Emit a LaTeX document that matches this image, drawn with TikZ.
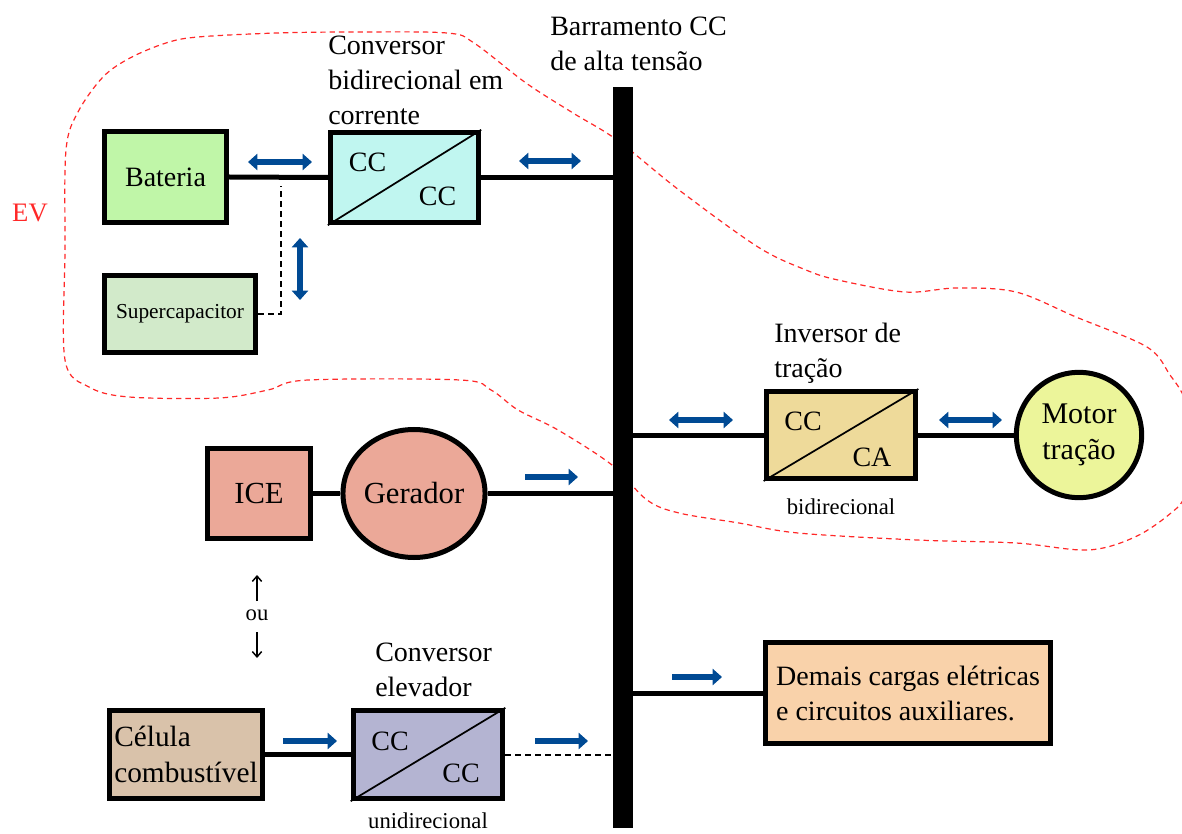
\documentclass[tikz,border=0pt]{standalone}
\usepackage{fontspec}
\setmainfont{Liberation Serif}
\usetikzlibrary{arrows.meta,shapes.geometric,calc}
\definecolor{arrowblue}{RGB}{0,74,148}
\definecolor{batgreen}{RGB}{192,246,168}
\definecolor{capgreen}{RGB}{210,234,202}
\definecolor{convcyan}{RGB}{192,246,240}
\definecolor{invtan}{RGB}{238,218,154}
\definecolor{motyellow}{RGB}{236,245,154}
\definecolor{icesalmon}{RGB}{235,168,152}
\definecolor{celtan}{RGB}{217,194,170}
\definecolor{elevlav}{RGB}{180,180,210}
\definecolor{loadpeach}{RGB}{249,210,170}
\definecolor{evred}{RGB}{255,40,40}
\begin{document}
\begin{tikzpicture}[x=0.75pt,y=-0.75pt,
  big/.style={font=\fontsize{21}{26.25}\selectfont},
  small/.style={font=\fontsize{17}{20}\selectfont},
  blk/.style={draw=black, line width=4pt, inner sep=0pt, rectangle},
  rnd/.style={draw=black, line width=3.75pt, inner sep=0pt, ellipse},
  wire/.style={line width=3.75pt},
  dwire/.style={line width=1.5pt, dash pattern=on 4.5pt off 3pt},
  onearrow/.style={arrowblue, line width=4.4pt, -{Triangle[length=7pt,width=12pt]}},
  twoarrow/.style={arrowblue, line width=4.4pt, {Triangle[length=7pt,width=12pt]}-{Triangle[length=7pt,width=12pt]}},
  label/.style={big, anchor=north west, inner sep=0pt, align=left},
  diag/.style={line width=1.3pt}
]
\useasboundingbox (0,0) rectangle (1182,834);

% EV region
\draw[evred, line width=0.9pt, dash pattern=on 4pt off 3pt]
  plot[smooth cycle, tension=0.55] coordinates {
  (65,360) (65,250) (66,150) (78,112) (103,77) (130,58) (166,43) (198,37) (277,33) (356,32) (447,33)
  (474,43) (526,83) (573,113) (617,140) (679,190) (758,247) (806,270) (838,280) (905,292) (957,288)
  (1016,292) (1076,317) (1147,347) (1170,375) (1185,400) (1194,445) (1185,495) (1171,513) (1135,537)
  (1088,550) (1016,543) (917,540) (798,533) (739,523) (679,513) (647,500) (612,465) (558,430)
  (518,410) (491,390) (460,380) (308,380) (268,390) (219,398) (129,397) (89,387)};
\node[evred, font=\fontsize{20}{24}\selectfont] (ev) at (30,213) {EV};

% bus
\node[fill=black, minimum width=15pt, minimum height=555.75pt, inner sep=0pt] (bus) at (623,457.5) {};
\node[label] (buslbl) at (550,17) {Barramento CC\\de alta tensão};

% battery and converter
\node[blk, fill=batgreen, minimum width=91.5pt, minimum height=68.25pt, big] (bat) at (165.5,177) {Bateria};
\node[blk, fill=convcyan, minimum width=111pt, minimum height=67.5pt] (conv1) at (404.5,177.5) {};
\draw[diag] (conv1.south west) -- (conv1.north east);
\node[big] (c1a) at ($(conv1)+(-37,-15)$) {CC};
\node[big] (c1b) at ($(conv1)+(33,19)$) {CC};
\node[label] (conv1lbl) at (328,36) {Conversor\\bidirecional em\\corrente};
\node[blk, fill=capgreen, minimum width=113pt, minimum height=58pt, font=\fontsize{16}{19}\selectfont] (cap) at (180,314) {Supercapacitor};

\draw[wire] (bat.east) -- (conv1.west);
\draw[wire] (conv1.east) -- (conv1.east -| bus.west);
\coordinate (dtop) at (281,186);
\draw[dwire] (cap.east) -| (dtop);
\draw[twoarrow] (248,162) -- (312,162);
\draw[twoarrow] (519,161) -- (581,161);
\draw[twoarrow] (300,238) -- (300,300);

% inverter and motor
\node[blk, fill=invtan, minimum width=112pt, minimum height=65pt] (inv) at (841,435) {};
\draw[diag] (inv.south west) -- (inv.north east);
\node[big] (inva) at ($(inv)+(-38,-14)$) {CC};
\node[big] (invb) at ($(inv)+(31,22)$) {CA};
\node[label] (invlbl) at (774,323) {Inversor de\\tração};
\node[small] (invdir) at (841,507) {bidirecional};
\node[rnd, fill=motyellow, minimum width=94pt, minimum height=94pt, align=center, font=\fontsize{22.5}{27}\selectfont] (mot) at (1079,435) {Motor\\tração};
\draw[wire] (inv.west -| bus.east) -- (inv.west);
\draw[wire] (inv.east) -- (mot.west);
\draw[twoarrow] (669,420) -- (733,420);
\draw[twoarrow] (939,420) -- (1002,420);

% ICE and generator
\node[blk, fill=icesalmon, minimum width=77pt, minimum height=67.5pt, font=\fontsize{23}{27}\selectfont] (ice) at (259,493.5) {ICE};
\node[rnd, fill=icesalmon, minimum width=97pt, minimum height=96pt, font=\fontsize{23}{27}\selectfont] (gen) at (414,493.5) {Gerador};
\draw[wire] (ice.east) -- (gen.west);
\draw[wire] (gen.east) -- (gen.east -| bus.west);
\draw[onearrow] (525,477) -- (578,477);

% ou
\node[small] (ou) at (257,615) {ou};
\draw[line width=1.1pt, -{Straight Barb[length=4pt,width=7pt]}] ($(ou)+(0,-14)$) -- ($(ou)+(0,-40)$);
\draw[line width=1.1pt, -{Straight Barb[length=4pt,width=7pt]}] ($(ou)+(0,17)$) -- ($(ou)+(0,43)$);

% other loads
\node[blk, fill=loadpeach, minimum width=214pt, minimum height=76pt, align=left, big] (load) at (908,693) {Demais cargas elétricas\\e circuitos auxiliares.};
\draw[wire] (load.west -| bus.east) -- (load.west);
\draw[onearrow] (672,677) -- (722,677);

% fuel cell and boost converter
\node[blk, fill=celtan, minimum width=115pt, minimum height=66pt, align=left, font=\fontsize{22}{27}\selectfont] (cel) at (186,754.5) {Célula\\combustível};
\node[blk, fill=elevlav, minimum width=112pt, minimum height=66pt] (conv2) at (428,754.5) {};
\draw[diag] (conv2.south west) -- (conv2.north east);
\node[big] (c2a) at ($(conv2)+(-38,-13.5)$) {CC};
\node[big] (c2b) at ($(conv2)+(33,18.5)$) {CC};
\node[label] (conv2lbl) at (375,643) {Conversor\\elevador};
\node[small] (conv2dir) at (428,821) {unidirecional};
\draw[wire] (cel.east) -- (conv2.west);
\draw[dwire] (conv2.east) -- (conv2.east -| bus.west);
\draw[onearrow] (283,741) -- (337,741);
\draw[onearrow] (535,741) -- (588,741);
\end{tikzpicture}
\end{document}
